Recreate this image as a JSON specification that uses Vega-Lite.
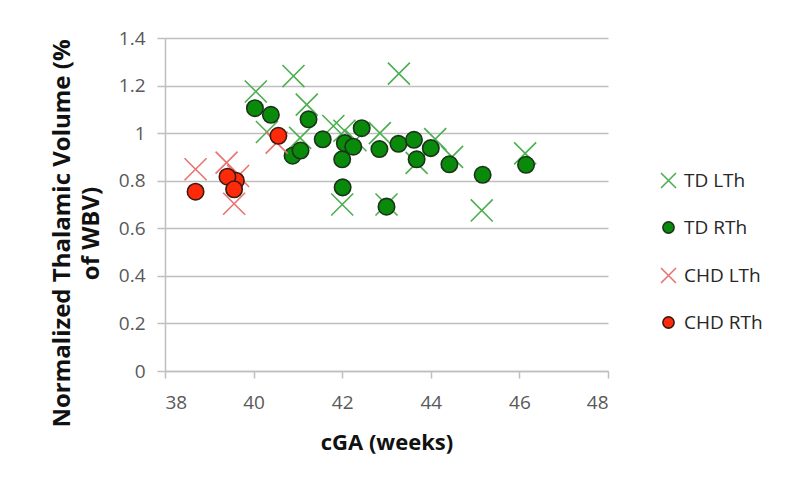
{
  "$schema": "https://vega.github.io/schema/vega-lite/v6.json",
  "width": 443,
  "height": 333,
  "autosize": {"type": "none"},
  "padding": {"left": 165, "top": 38, "right": 192, "bottom": 125},
  "background": "white",
  "config": {
    "view": {"stroke": null},
    "font": "Open Sans",
    "axis": {
      "labelFont": "Open Sans",
      "labelFontSize": 19,
      "labelColor": "#595959",
      "titleFont": "Open Sans",
      "titleFontWeight": "bold",
      "titleColor": "#111111",
      "domainColor": "#BFBFBF",
      "domainWidth": 1.5,
      "tickColor": "#BFBFBF",
      "tickWidth": 1.5,
      "gridColor": "#BFBFBF",
      "gridWidth": 1.5
    },
    "legend": {
      "labelFont": "Open Sans",
      "labelFontSize": 19,
      "labelColor": "#262626",
      "symbolStrokeWidth": 1.6,
      "rowPadding": 26,
      "labelOffset": 6
    }
  },
  "data": {
    "values": [
      {"series": "TD LTh", "cga": 40.05, "vol": 1.175},
      {"series": "TD LTh", "cga": 40.9, "vol": 1.24},
      {"series": "TD LTh", "cga": 41.2, "vol": 1.12},
      {"series": "TD LTh", "cga": 40.3, "vol": 1.005},
      {"series": "TD LTh", "cga": 41.05, "vol": 0.98},
      {"series": "TD LTh", "cga": 41.8, "vol": 1.03},
      {"series": "TD LTh", "cga": 42.05, "vol": 1.01},
      {"series": "TD LTh", "cga": 42.85, "vol": 1.0},
      {"series": "TD LTh", "cga": 43.28, "vol": 1.25},
      {"series": "TD LTh", "cga": 44.1, "vol": 0.975},
      {"series": "TD LTh", "cga": 44.48, "vol": 0.9},
      {"series": "TD LTh", "cga": 43.68, "vol": 0.875},
      {"series": "TD LTh", "cga": 42.0, "vol": 0.7},
      {"series": "TD LTh", "cga": 43.0, "vol": 0.7},
      {"series": "TD LTh", "cga": 45.15, "vol": 0.675},
      {"series": "TD LTh", "cga": 46.13, "vol": 0.915},
      {"series": "TD LTh", "cga": 42.3, "vol": 0.97},
      {"series": "TD RTh", "cga": 40.03, "vol": 1.105},
      {"series": "TD RTh", "cga": 40.39, "vol": 1.077},
      {"series": "TD RTh", "cga": 41.24, "vol": 1.058},
      {"series": "TD RTh", "cga": 41.56, "vol": 0.974},
      {"series": "TD RTh", "cga": 40.88, "vol": 0.905},
      {"series": "TD RTh", "cga": 41.06, "vol": 0.927},
      {"series": "TD RTh", "cga": 42.0, "vol": 0.89},
      {"series": "TD RTh", "cga": 42.01, "vol": 0.772},
      {"series": "TD RTh", "cga": 42.06, "vol": 0.958},
      {"series": "TD RTh", "cga": 42.25, "vol": 0.943},
      {"series": "TD RTh", "cga": 42.44, "vol": 1.021},
      {"series": "TD RTh", "cga": 42.84, "vol": 0.933},
      {"series": "TD RTh", "cga": 43.0, "vol": 0.691},
      {"series": "TD RTh", "cga": 43.27, "vol": 0.955},
      {"series": "TD RTh", "cga": 43.62, "vol": 0.972},
      {"series": "TD RTh", "cga": 43.68, "vol": 0.89},
      {"series": "TD RTh", "cga": 44.0, "vol": 0.937},
      {"series": "TD RTh", "cga": 44.42, "vol": 0.869},
      {"series": "TD RTh", "cga": 45.17, "vol": 0.825},
      {"series": "TD RTh", "cga": 46.15, "vol": 0.867},
      {"series": "CHD LTh", "cga": 38.69, "vol": 0.848},
      {"series": "CHD LTh", "cga": 39.39, "vol": 0.876},
      {"series": "CHD LTh", "cga": 39.56, "vol": 0.703},
      {"series": "CHD LTh", "cga": 39.65, "vol": 0.82},
      {"series": "CHD LTh", "cga": 40.52, "vol": 0.96},
      {"series": "CHD RTh", "cga": 38.69, "vol": 0.754},
      {"series": "CHD RTh", "cga": 39.6, "vol": 0.8},
      {"series": "CHD RTh", "cga": 39.41, "vol": 0.817},
      {"series": "CHD RTh", "cga": 39.56, "vol": 0.764},
      {"series": "CHD RTh", "cga": 40.56, "vol": 0.989}
    ]
  },
  "mark": {"type": "point", "filled": true, "opacity": 1, "strokeWidth": 1.6, "size": 270},
  "encoding": {
    "x": {
      "field": "cga",
      "type": "quantitative",
      "scale": {"domain": [38, 48], "nice": false, "zero": false},
      "axis": {
        "values": [38, 40, 42, 44, 46, 48],
        "grid": false,
        "tickSize": 7,
        "labelPadding": 15,
        "title": "cGA (weeks)",
        "titleFontSize": 22,
        "titlePadding": 20
      }
    },
    "y": {
      "field": "vol",
      "type": "quantitative",
      "scale": {"domain": [0, 1.4], "nice": false},
      "axis": {
        "values": [0, 0.2, 0.4, 0.6, 0.8, 1, 1.2, 1.4],
        "format": "~g",
        "grid": true,
        "tickSize": 8,
        "labelPadding": 12,
        "title": ["Normalized Thalamic Volume (%", "of WBV)"],
        "titleFontSize": 24,
        "titleLineHeight": 29,
        "titleAngle": -90,
        "titleAlign": "center",
        "titleBaseline": "middle",
        "titleX": -103,
        "titleY": 195
      }
    },
    "shape": {
      "field": "series",
      "type": "nominal",
      "scale": {
        "domain": ["TD LTh", "TD RTh", "CHD LTh", "CHD RTh"],
        "range": ["M-1.34,-1.34L1.34,1.34M1.34,-1.34L-1.34,1.34", "circle", "M-1.34,-1.34L1.34,1.34M1.34,-1.34L-1.34,1.34", "circle"]
      },
      "legend": {
        "orient": "none",
        "legendX": 494,
        "legendY": 133,
        "title": null,
        "symbolSize": 125
      }
    },
    "fill": {
      "field": "series",
      "type": "nominal",
      "scale": {
        "domain": ["TD LTh", "TD RTh", "CHD LTh", "CHD RTh"],
        "range": ["transparent", "#0A8A0A", "transparent", "#FF2A0A"]
      }
    },
    "stroke": {
      "field": "series",
      "type": "nominal",
      "scale": {
        "domain": ["TD LTh", "TD RTh", "CHD LTh", "CHD RTh"],
        "range": ["#4CAF50", "#1B331B", "#E8736F", "#3B1A12"]
      }
    }
  }
}
